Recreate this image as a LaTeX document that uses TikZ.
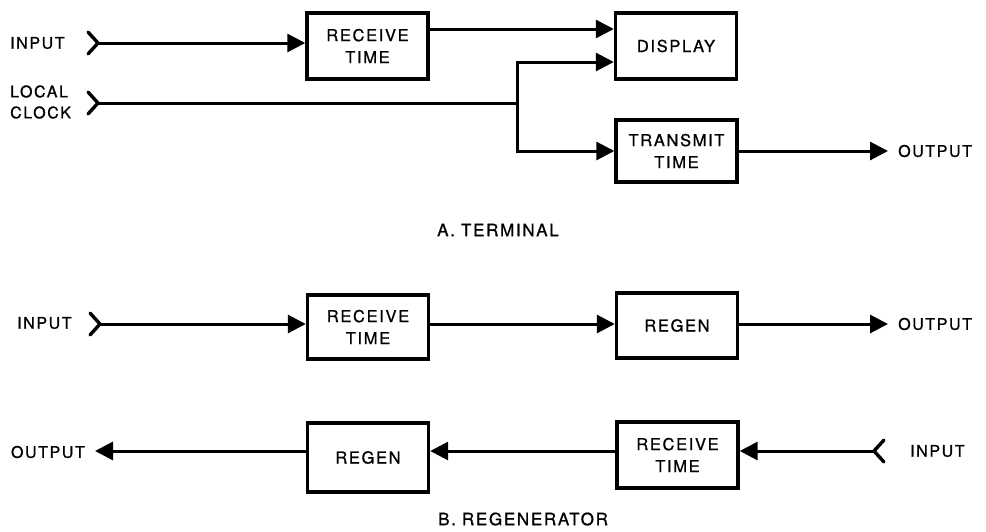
\documentclass[tikz,border=0pt]{standalone}
\usepackage{fontspec}
\setmainfont{TeX Gyre Heros}[LetterSpace=10,FakeBold=0.9]
\usetikzlibrary{arrows.meta}
\begin{document}
\begin{tikzpicture}[x=1pt,y=-1pt,
  box/.style={draw,line width=3.4pt,minimum width=121pt,minimum height=66pt,align=center,inner sep=0pt,font=\fontsize{16.5}{22}\selectfont},
  lbl/.style={font=\fontsize{16}{21}\selectfont,inner sep=0pt,align=left},
  captxt/.style={font=\fontsize{17}{20}\selectfont,inner sep=0pt},
  wire/.style={line width=3pt},
  arr/.style={wire,-{Triangle[length=18pt,width=18pt]}},
  chev/.style={line width=3.4pt,line cap=round}]
\useasboundingbox (0,0) rectangle (986,531);

% ---------- A. TERMINAL ----------
\node[box] (recvA) at (367.5,46) {RECEIVE\\TIME};
\node[box] (disp) at (676,46) {DISPLAY};
\node[box,minimum height=62pt] (xmit) at (676.5,151) {TRANSMIT\\TIME};

\node[lbl,anchor=west] (inAl) at (10,43) {INPUT};
\node[lbl,anchor=west] (clkl) at (10,102) {LOCAL\\CLOCK};
\node[lbl,anchor=west] (outAl) at (898,151) {OUTPUT};
\node[captxt,anchor=west] (capA) at (437,230) {A.\hspace{6pt}TERMINAL};

\coordinate (inA) at (98,43);
\draw[chev] (88,32) -- (inA) -- (88,54);
\draw[arr] (inA) -- (inA -| recvA.west);
\draw[arr] ([yshift=17pt]recvA.east) -- ([yshift=17pt]disp.west);

\coordinate (clk) at (98,103);
\draw[chev] (88,92) -- (clk) -- (88,114);
\coordinate (jn) at (517,103);
\draw[wire] (clk) -- (jn);
\draw[arr] (jn) |- ([yshift=-16pt]disp.west);
\draw[arr] (jn) |- (xmit.west);
\coordinate (outA) at (888,151);
\draw[arr] (xmit.east) -- (outA);

% ---------- B. REGENERATOR ----------
\node[box,minimum height=64pt] (recvB) at (368,327) {RECEIVE\\TIME};
\node[box,minimum height=65pt] (regenB) at (677,325.5) {REGEN};
\node[box] (recvC) at (677.5,455) {RECEIVE\\TIME};
\node[box,minimum height=69pt] (regenC) at (368,457.5) {REGEN};

\node[lbl,anchor=west] (inBl) at (17,323) {INPUT};
\node[lbl,anchor=west] (outBl) at (898,324) {OUTPUT};
\node[lbl,anchor=west] (inCl) at (910,451) {INPUT};
\node[lbl,anchor=east] (outCl) at (85,452) {OUTPUT};
\node[captxt,anchor=west] (capB) at (438,519) {B.\hspace{6pt}REGENERATOR};

\coordinate (inB) at (100,324);
\draw[chev] (90,313) -- (inB) -- (90,335);
\draw[arr] (inB) -- (inB -| recvB.west);
\draw[arr] (inB -| recvB.east) -- (inB -| regenB.west);
\coordinate (outB) at (888,324);
\draw[arr] (inB -| regenB.east) -- (outB);

\coordinate (inC) at (874,451);
\draw[chev] (884,440) -- (inC) -- (884,462);
\draw[arr] (inC) -- (inC -| recvC.east);
\draw[arr] (inC -| recvC.west) -- (inC -| regenC.east);
\coordinate (outC) at (95,451);
\draw[arr] (inC -| regenC.west) -- (outC);
\end{tikzpicture}
\end{document}
